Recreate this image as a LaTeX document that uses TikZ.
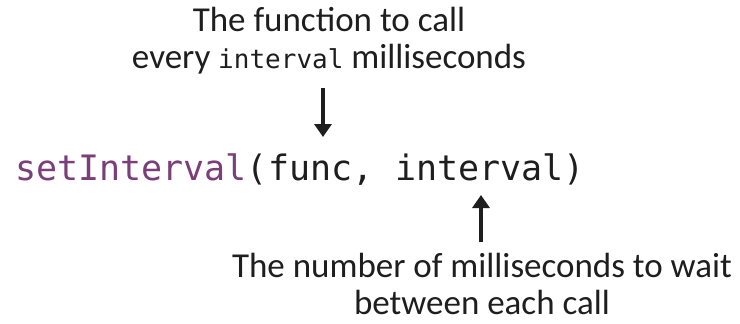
\documentclass[tikz,border=0pt]{standalone}
\usepackage{fontspec}
\setmainfont{Carlito}
\newfontfamily\codefont{DejaVu Sans Mono}
\usetikzlibrary{positioning, arrows.meta}
\definecolor{fnpurple}{HTML}{7A3E78}
\definecolor{inktext}{HTML}{1E1E1E}

\begin{document}
\begin{tikzpicture}[x=1pt, y=-1pt,
        note/.style={align=center, inner sep=0pt, font=\fontsize{35}{37}\selectfont, text=inktext},
        code/.style={inner sep=0pt, font=\codefont\fontsize{35}{40}\selectfont, text=inktext},
        arr/.style={-{Triangle[length=13pt, width=17pt]}, line width=4pt, draw=inktext}
    ]
    \useasboundingbox (0,0) rectangle (740,324);
    % the call, one node per part
    \node[code, anchor=base west] (setfn) at (15,180) {\textcolor{fnpurple}{setInterval}(};
    \node[code, base right=0pt of setfn] (funcarg) {func,};
    \node[code, base right=21pt of funcarg] (intarg) {interval)};
    % notes above and below (base = last line)
    \node[note, anchor=base] (fnnote) at (329,68) {The function to call\\every {\codefont\fontsize{26}{37}\selectfont interval} milliseconds};
    \node[note, anchor=base] (msnote) at (482,314) {The number of milliseconds to wait\\between each call};
    % arrow tips
    \coordinate (functip) at (323,137);
    \coordinate (inttip) at (481,195);

    \draw[arr, shorten <=14pt] (functip |- fnnote.south) -- (functip);
    \draw[arr, shorten <=10pt] (inttip |- msnote.north) -- (inttip);
\end{tikzpicture}
\end{document}
